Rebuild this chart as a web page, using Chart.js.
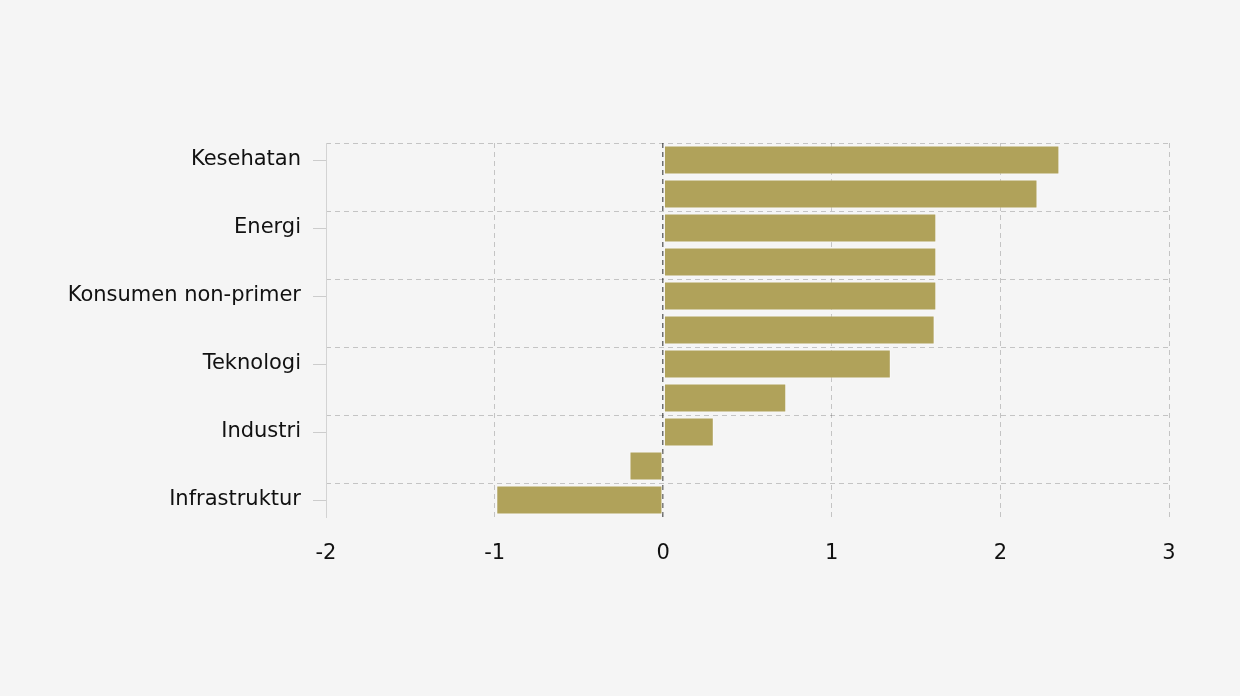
<!DOCTYPE html>
<html>
<head>
<meta charset="utf-8">
<script src="https://cdn.jsdelivr.net/npm/chart.js@4/dist/chart.umd.min.js"></script>
<style>
  html, body { margin: 0; padding: 0; background: #f5f5f5; }
  #wrap { width: 1240px; height: 696px; }
</style>
</head>
<body>
<div id="wrap"><canvas id="sektor"></canvas></div>
<script>
var sectors = ["Kesehatan", "Keuangan", "Energi", "Barang baku", "Konsumen non-primer", "Konsumen primer",
               "Teknologi", "Properti", "Industri", "Transportasi", "Infrastruktur"];
var values = [2.35, 2.22, 1.62, 1.62, 1.62, 1.61, 1.35, 0.73, 0.30, -0.20, -0.99];
var xTicks = [-2, -1, 0, 1, 2, 3];

var barColor = "#b0a25a";
var gridColor = "rgba(0,0,0,0.2)";
var zeroColor = "rgba(0,0,0,0.55)";
var textColor = "#111";

Chart.defaults.font.family = "'DejaVu Sans', Verdana, sans-serif";
Chart.defaults.font.size = 21;
Chart.defaults.color = textColor;

new Chart("sektor", {
  type: "bar",
  data: {
    labels: sectors,
    datasets: [{
      data: values,
      backgroundColor: barColor,
      borderColor: "rgba(255,255,255,0.55)",
      borderWidth: 1,
      borderSkipped: false,
      categoryPercentage: 1,
      barPercentage: 0.85,
      yAxisID: "y"
    }]
  },
  options: {
    indexAxis: "y",
    responsive: true,
    maintainAspectRatio: false,
    animation: false,
    layout: {padding: {top: 143, right: 71, bottom: 0, left: 0}},
    plugins: {
      legend: {display: false},
      tooltip: {enabled: false}
    },
    scales: {
      x: {
        min: xTicks[0],
        max: xTicks[xTicks.length - 1],
        z: 1,
        afterBuildTicks: function (scale) {
          scale.ticks = xTicks.map(function (v) { return {value: v}; });
        },
        afterFit: function (scale) { scale.height = 696 - 517; },
        ticks: {padding: 24, color: textColor},
        grid: {
          drawTicks: false,
          lineWidth: function (ctx) {
            return ctx.tick && ctx.tick.value === 0 ? 1.5 : 1;
          },
          color: function (ctx) {
            return ctx.tick && ctx.tick.value === 0 ? zeroColor : gridColor;
          }
        },
        border: {display: false, dash: [5, 4]}
      },
      y: {
        position: "left",
        offset: true,
        afterFit: function (scale) { scale.width = 326; },
        ticks: {
          padding: 12,
          autoSkip: false,
          color: textColor,
          callback: function (v, i) { return i % 2 === 0 ? sectors[i] : ""; }
        },
        grid: {
          offset: false,
          drawOnChartArea: false,
          tickLength: 13,
          color: function (ctx) {
            return ctx.type === "tick" && ctx.index % 2 === 0 ? "#cccccc" : "rgba(0,0,0,0)";
          }
        },
        border: {display: true, color: "#d3d3d3", width: 1}
      },
      y2: {
        type: "category",
        position: "right",
        offset: true,
        z: 1,
        ticks: {display: false},
        grid: {
          offset: true,
          drawTicks: false,
          color: function (ctx) {
            return ctx.type === "tick" && ctx.index % 2 === 0 ? gridColor : "rgba(0,0,0,0)";
          }
        },
        border: {display: false, dash: [5, 4]},
        afterFit: function (scale) { scale.width = 0; }
      }
    }
  }
});
</script>
</body>
</html>
